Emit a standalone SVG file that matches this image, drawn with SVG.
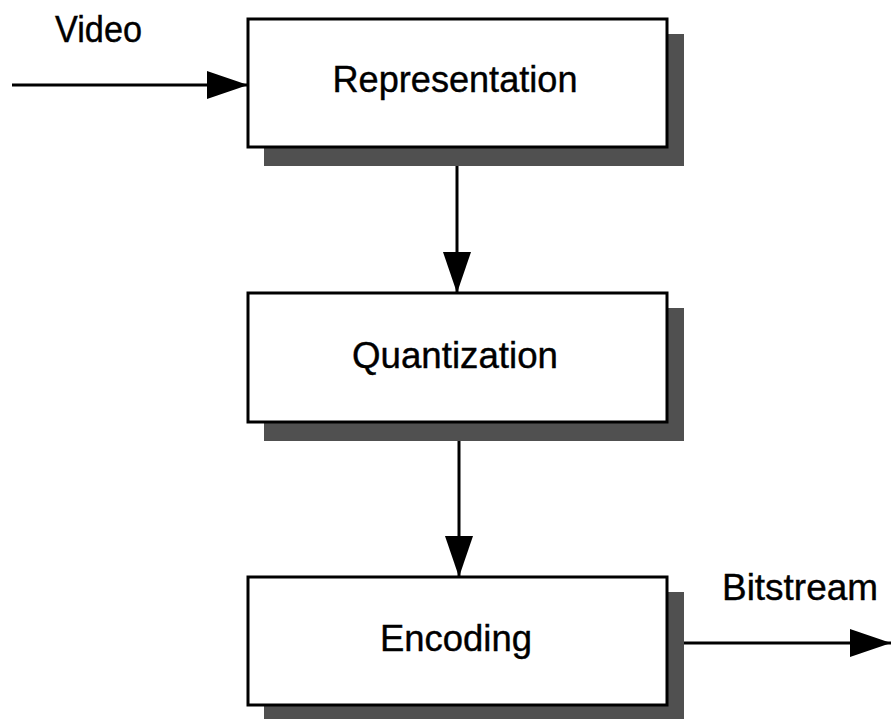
<svg xmlns="http://www.w3.org/2000/svg" width="891" height="719" viewBox="0 0 891 719">
<style>
.box{fill:#fff;stroke:#000;stroke-width:3}
.shadow{fill:#505050}
.lbl{font-family:"Liberation Sans",Arial,sans-serif;font-size:36.5px;fill:#000;stroke:#000;stroke-width:0.4}
.conn{stroke:#000;stroke-width:3;fill:none}
</style>
<defs>
<marker id="ah" markerUnits="userSpaceOnUse" markerWidth="42" markerHeight="30" refX="41" refY="15" orient="auto">
<path d="M0,1 L41,15 L0,29 Z" fill="#000"/>
</marker>
</defs>
<g id="connectors">
<line class="conn" x1="12" y1="85" x2="248" y2="85" marker-end="url(#ah)"/>
<line class="conn" x1="457" y1="165" x2="457" y2="293" marker-end="url(#ah)"/>
<line class="conn" x1="459" y1="441" x2="459" y2="577" marker-end="url(#ah)"/>
<line class="conn" x1="684" y1="643" x2="891" y2="643" marker-end="url(#ah)"/>
</g>
<g id="representation">
<rect class="shadow" x="264" y="34" width="420" height="132"/>
<rect class="box" x="248" y="19" width="419" height="128"/>
<text class="lbl" x="455" y="92" text-anchor="middle" textLength="245" lengthAdjust="spacingAndGlyphs">Representation</text>
</g>
<g id="quantization">
<rect class="shadow" x="264" y="308" width="420" height="133"/>
<rect class="box" x="248" y="293" width="419" height="129"/>
<text class="lbl" x="455" y="368" text-anchor="middle" textLength="206" lengthAdjust="spacingAndGlyphs">Quantization</text>
</g>
<g id="encoding">
<rect class="shadow" x="264" y="592" width="420" height="130"/>
<rect class="box" x="248" y="577" width="419" height="128"/>
<text class="lbl" x="456" y="651" text-anchor="middle" textLength="152" lengthAdjust="spacingAndGlyphs">Encoding</text>
</g>
<g id="labels">
<text class="lbl" x="55" y="42" textLength="87" lengthAdjust="spacingAndGlyphs">Video</text>
<text class="lbl" x="722" y="600" textLength="156" lengthAdjust="spacingAndGlyphs">Bitstream</text>
</g>
</svg>
